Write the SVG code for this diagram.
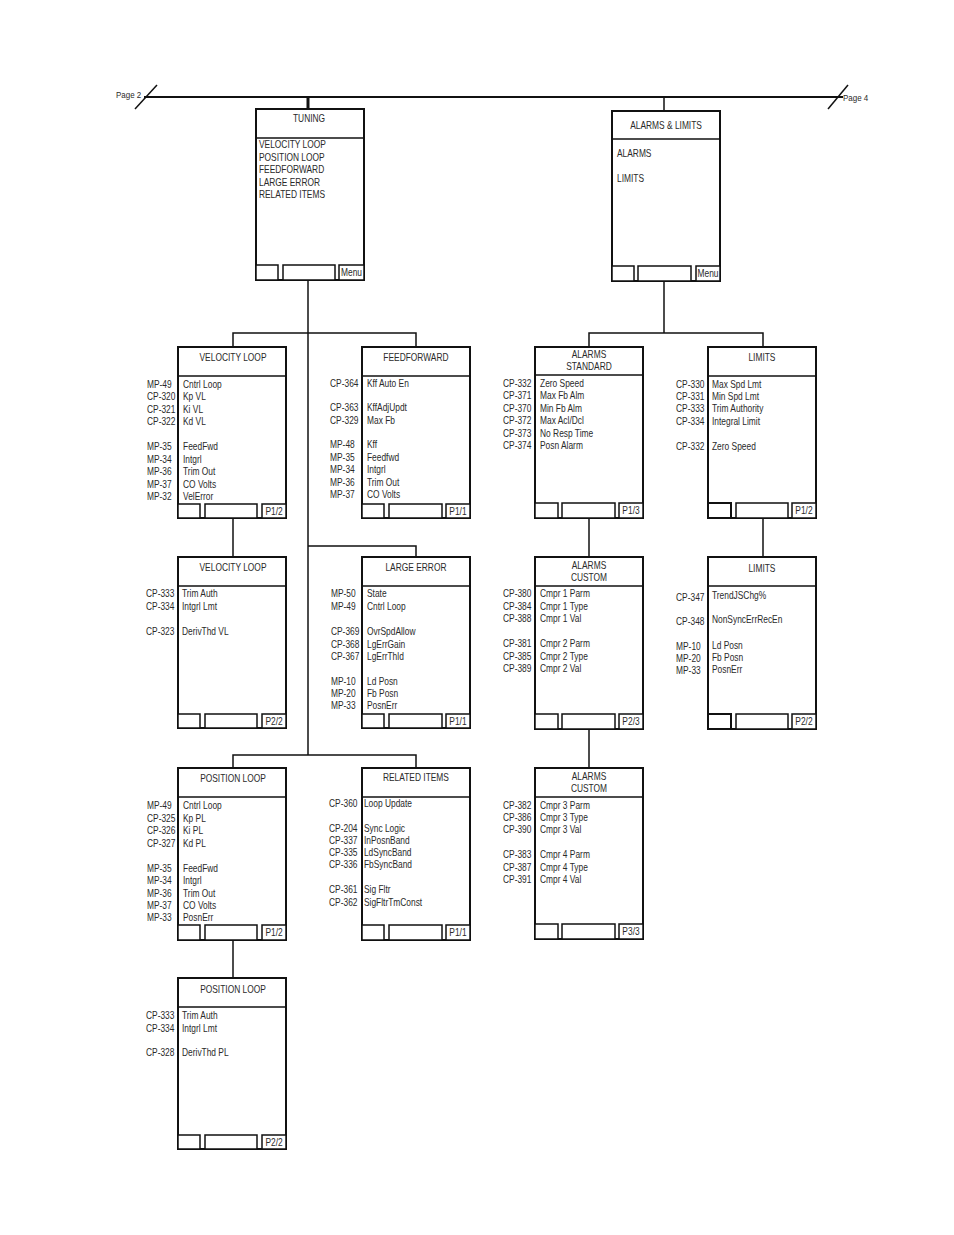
<svg xmlns="http://www.w3.org/2000/svg" width="954" height="1235" viewBox="0 0 954 1235">
<style>
text{font-family:"Liberation Sans",Arial,sans-serif;font-size:10px;fill:#2a2a2a}
.c{text-anchor:middle}
.pg{font-size:9.5px}
.box{fill:#fff;stroke:#111;stroke-width:2}
.sep{stroke:#111;stroke-width:1.5}
.btn{fill:#fff;stroke:#111;stroke-width:1.5}
.ln{fill:none;stroke:#111;stroke-width:1.5}
</style>
<rect width="954" height="1235" fill="#fff"/>
<g id="connectors">
<line class="ln" x1="144" y1="97" x2="843" y2="97" style="stroke-width:2"/>
<line class="ln" x1="135" y1="109" x2="157" y2="85"/>
<line class="ln" x1="828" y1="109" x2="848" y2="85"/>
<line class="ln" x1="308" y1="97" x2="308" y2="109" style="stroke-width:3"/>
<line class="ln" x1="664" y1="97" x2="664" y2="111"/>
<line class="ln" x1="308" y1="280" x2="308" y2="755"/>
<polyline class="ln" points="233,347 233,333 416,333 416,347"/>
<polyline class="ln" points="308,546 416,546 416,557"/>
<line class="ln" x1="233" y1="518" x2="233" y2="557"/>
<polyline class="ln" points="233,768 233,755 416,755 416,768"/>
<line class="ln" x1="233" y1="940" x2="233" y2="978"/>
<line class="ln" x1="664" y1="281" x2="664" y2="333"/>
<polyline class="ln" points="589,347 589,333 763,333 763,347"/>
<line class="ln" x1="589" y1="518" x2="589" y2="557"/>
<line class="ln" x1="589" y1="729" x2="589" y2="768"/>
<line class="ln" x1="763" y1="518" x2="763" y2="557"/>
</g>
<g id="page-refs" transform="scale(0.84 1)">
<text class="pg" x="138.1" y="98">Page 2</text>
<text class="pg" x="1003.6" y="101">Page 4</text>
</g>
<g id="tuning">
<rect class="box" x="256" y="109" width="108" height="171"/>
<line class="sep" x1="256" y1="138" x2="364" y2="138"/>
<rect class="btn" x="256" y="265" width="22" height="15"/>
<rect class="btn" x="283" y="265" width="52" height="15"/>
<rect class="btn" x="339" y="265" width="25" height="15"/>
<g transform="scale(0.84 1)">
<text class="c" x="367.9" y="122">TUNING</text>
<text x="308.3" y="148.5">VELOCITY LOOP</text>
<text x="308.3" y="161">POSITION LOOP</text>
<text x="308.3" y="173.5">FEEDFORWARD</text>
<text x="308.3" y="186">LARGE ERROR</text>
<text x="308.3" y="198.5">RELATED ITEMS</text>
<text class="c" x="418.5" y="276">Menu</text>
</g>
</g>
<g id="alarms-limits">
<rect class="box" x="612" y="111" width="108" height="170"/>
<line class="sep" x1="612" y1="139" x2="720" y2="139"/>
<rect class="btn" x="612" y="266" width="22" height="15"/>
<rect class="btn" x="638" y="266" width="53" height="15"/>
<rect class="btn" x="696" y="266" width="24" height="15"/>
<g transform="scale(0.84 1)">
<text class="c" x="792.9" y="129">ALARMS &amp; LIMITS</text>
<text x="734.5" y="157">ALARMS</text>
<text x="734.5" y="182">LIMITS</text>
<text class="c" x="842.9" y="277">Menu</text>
</g>
</g>
<g id="velocity-loop-1">
<rect class="box" x="178" y="347" width="108" height="171"/>
<line class="sep" x1="178" y1="376" x2="286" y2="376"/>
<rect class="btn" x="178" y="504" width="22" height="14"/>
<rect class="btn" x="205" y="504" width="52" height="14"/>
<rect class="btn" x="262" y="504" width="24" height="14"/>
<g transform="scale(0.84 1)">
<text class="c" x="277.4" y="361">VELOCITY LOOP</text>
<text x="175" y="388">MP-49</text><text x="217.9" y="388">Cntrl Loop</text>
<text x="175" y="400.5">CP-320</text><text x="217.9" y="400.5">Kp VL</text>
<text x="175" y="413">CP-321</text><text x="217.9" y="413">Ki VL</text>
<text x="175" y="425.5">CP-322</text><text x="217.9" y="425.5">Kd VL</text>
<text x="175" y="450.5">MP-35</text><text x="217.9" y="450.5">FeedFwd</text>
<text x="175" y="463">MP-34</text><text x="217.9" y="463">Intgrl</text>
<text x="175" y="475.5">MP-36</text><text x="217.9" y="475.5">Trim Out</text>
<text x="175" y="488">MP-37</text><text x="217.9" y="488">CO Volts</text>
<text x="175" y="500.5">MP-32</text><text x="217.9" y="500.5">VelError</text>
<text class="c" x="326.2" y="515">P1/2</text>
</g>
</g>
<g id="feedforward">
<rect class="box" x="362" y="347" width="108" height="171"/>
<line class="sep" x1="362" y1="376" x2="470" y2="376"/>
<rect class="btn" x="362" y="504" width="22" height="14"/>
<rect class="btn" x="389" y="504" width="53" height="14"/>
<rect class="btn" x="446" y="504" width="24" height="14"/>
<g transform="scale(0.84 1)">
<text class="c" x="495.2" y="361">FEEDFORWARD</text>
<text x="392.9" y="387">CP-364</text><text x="436.9" y="387">Kff Auto En</text>
<text x="392.9" y="411.5">CP-363</text><text x="436.9" y="411.5">KffAdjUpdt</text>
<text x="392.9" y="424">CP-329</text><text x="436.9" y="424">Max Fb</text>
<text x="392.9" y="448.5">MP-48</text><text x="436.9" y="448.5">Kff</text>
<text x="392.9" y="461">MP-35</text><text x="436.9" y="461">Feedfwd</text>
<text x="392.9" y="473.5">MP-34</text><text x="436.9" y="473.5">Intgrl</text>
<text x="392.9" y="486">MP-36</text><text x="436.9" y="486">Trim Out</text>
<text x="392.9" y="498">MP-37</text><text x="436.9" y="498">CO Volts</text>
<text class="c" x="545.2" y="515">P1/1</text>
</g>
</g>
<g id="alarms-standard">
<rect class="box" x="535" y="347" width="108" height="171"/>
<line class="sep" x1="535" y1="375" x2="643" y2="375"/>
<rect class="btn" x="535" y="503" width="23" height="15"/>
<rect class="btn" x="562" y="503" width="53" height="15"/>
<rect class="btn" x="619" y="503" width="24" height="15"/>
<g transform="scale(0.84 1)">
<text class="c" x="701.2" y="358.5">ALARMS</text>
<text class="c" x="701.2" y="370.5">STANDARD</text>
<text x="598.8" y="387">CP-332</text><text x="642.9" y="387">Zero Speed</text>
<text x="598.8" y="399.5">CP-371</text><text x="642.9" y="399.5">Max Fb Alm</text>
<text x="598.8" y="412">CP-370</text><text x="642.9" y="412">Min Fb Alm</text>
<text x="598.8" y="424.5">CP-372</text><text x="642.9" y="424.5">Max Acl/Dcl</text>
<text x="598.8" y="437">CP-373</text><text x="642.9" y="437">No Resp Time</text>
<text x="598.8" y="449.5">CP-374</text><text x="642.9" y="449.5">Posn Alarm</text>
<text class="c" x="751.2" y="514">P1/3</text>
</g>
</g>
<g id="limits-1">
<rect class="box" x="708" y="347" width="108" height="171"/>
<line class="sep" x1="708" y1="376" x2="816" y2="376"/>
<rect class="btn" x="708" y="503" width="23" height="15" style="stroke-width:2"/>
<rect class="btn" x="736" y="503" width="52" height="15"/>
<rect class="btn" x="792" y="503" width="24" height="15"/>
<g transform="scale(0.84 1)">
<text class="c" x="907.1" y="361.5">LIMITS</text>
<text x="804.8" y="388">CP-330</text><text x="847.6" y="388">Max Spd Lmt</text>
<text x="804.8" y="400">CP-331</text><text x="847.6" y="400">Min Spd Lmt</text>
<text x="804.8" y="412.5">CP-333</text><text x="847.6" y="412.5">Trim Authority</text>
<text x="804.8" y="425">CP-334</text><text x="847.6" y="425">Integral Limit</text>
<text x="804.8" y="450.5">CP-332</text><text x="847.6" y="450.5">Zero Speed</text>
<text class="c" x="957.1" y="514">P1/2</text>
</g>
</g>
<g id="velocity-loop-2">
<rect class="box" x="178" y="557" width="108" height="171"/>
<line class="sep" x1="178" y1="586" x2="286" y2="586"/>
<rect class="btn" x="178" y="714" width="22" height="14"/>
<rect class="btn" x="205" y="714" width="52" height="14"/>
<rect class="btn" x="262" y="714" width="24" height="14"/>
<g transform="scale(0.84 1)">
<text class="c" x="277.4" y="571.5">VELOCITY LOOP</text>
<text x="173.8" y="597.5">CP-333</text><text x="216.7" y="597.5">Trim Auth</text>
<text x="173.8" y="610.5">CP-334</text><text x="216.7" y="610.5">Intgrl Lmt</text>
<text x="173.8" y="635.5">CP-323</text><text x="216.7" y="635.5">DerivThd VL</text>
<text class="c" x="326.2" y="725">P2/2</text>
</g>
</g>
<g id="large-error">
<rect class="box" x="362" y="557" width="108" height="171"/>
<line class="sep" x1="362" y1="586" x2="470" y2="586"/>
<rect class="btn" x="362" y="714" width="22" height="14"/>
<rect class="btn" x="389" y="714" width="53" height="14"/>
<rect class="btn" x="446" y="714" width="24" height="14"/>
<g transform="scale(0.84 1)">
<text class="c" x="495.2" y="571.5">LARGE ERROR</text>
<text x="394" y="597.5">MP-50</text><text x="436.9" y="597.5">State</text>
<text x="394" y="610.5">MP-49</text><text x="436.9" y="610.5">Cntrl Loop</text>
<text x="394" y="635.5">CP-369</text><text x="436.9" y="635.5">OvrSpdAllow</text>
<text x="394" y="648">CP-368</text><text x="436.9" y="648">LgErrGain</text>
<text x="394" y="660">CP-367</text><text x="436.9" y="660">LgErrThld</text>
<text x="394" y="685">MP-10</text><text x="436.9" y="685">Ld Posn</text>
<text x="394" y="697.5">MP-20</text><text x="436.9" y="697.5">Fb Posn</text>
<text x="394" y="709.5">MP-33</text><text x="436.9" y="709.5">PosnErr</text>
<text class="c" x="545.2" y="725">P1/1</text>
</g>
</g>
<g id="alarms-custom-1">
<rect class="box" x="535" y="557" width="108" height="172"/>
<line class="sep" x1="535" y1="586" x2="643" y2="586"/>
<rect class="btn" x="535" y="714" width="23" height="15"/>
<rect class="btn" x="562" y="714" width="53" height="15"/>
<rect class="btn" x="619" y="714" width="24" height="15"/>
<g transform="scale(0.84 1)">
<text class="c" x="701.2" y="569.5">ALARMS</text>
<text class="c" x="701.2" y="581.5">CUSTOM</text>
<text x="598.8" y="597">CP-380</text><text x="642.9" y="597">Cmpr 1 Parm</text>
<text x="598.8" y="610">CP-384</text><text x="642.9" y="610">Cmpr 1 Type</text>
<text x="598.8" y="622.5">CP-388</text><text x="642.9" y="622.5">Cmpr 1 Val</text>
<text x="598.8" y="647">CP-381</text><text x="642.9" y="647">Cmpr 2 Parm</text>
<text x="598.8" y="660">CP-385</text><text x="642.9" y="660">Cmpr 2 Type</text>
<text x="598.8" y="672">CP-389</text><text x="642.9" y="672">Cmpr 2 Val</text>
<text class="c" x="751.2" y="725">P2/3</text>
</g>
</g>
<g id="limits-2">
<rect class="box" x="708" y="557" width="108" height="172"/>
<line class="sep" x1="708" y1="586" x2="816" y2="586"/>
<rect class="btn" x="708" y="714" width="23" height="15" style="stroke-width:2"/>
<rect class="btn" x="736" y="714" width="52" height="15"/>
<rect class="btn" x="792" y="714" width="24" height="15"/>
<g transform="scale(0.84 1)">
<text class="c" x="907.1" y="572.5">LIMITS</text>
<text x="804.8" y="601">CP-347</text><text x="847.6" y="599">TrendJSChg%</text>
<text x="804.8" y="625">CP-348</text><text x="847.6" y="623.5">NonSyncErrRecEn</text>
<text x="804.8" y="650">MP-10</text><text x="847.6" y="649">Ld Posn</text>
<text x="804.8" y="662">MP-20</text><text x="847.6" y="661">Fb Posn</text>
<text x="804.8" y="674">MP-33</text><text x="847.6" y="673">PosnErr</text>
<text class="c" x="957.1" y="725">P2/2</text>
</g>
</g>
<g id="position-loop-1">
<rect class="box" x="178" y="768" width="108" height="172"/>
<line class="sep" x1="178" y1="797" x2="286" y2="797"/>
<rect class="btn" x="178" y="925" width="22" height="15"/>
<rect class="btn" x="205" y="925" width="52" height="15"/>
<rect class="btn" x="262" y="925" width="24" height="15"/>
<g transform="scale(0.84 1)">
<text class="c" x="277.4" y="782">POSITION LOOP</text>
<text x="175" y="809.5">MP-49</text><text x="217.9" y="809.5">Cntrl Loop</text>
<text x="175" y="822">CP-325</text><text x="217.9" y="822">Kp PL</text>
<text x="175" y="834.5">CP-326</text><text x="217.9" y="834.5">Ki PL</text>
<text x="175" y="847">CP-327</text><text x="217.9" y="847">Kd PL</text>
<text x="175" y="872">MP-35</text><text x="217.9" y="872">FeedFwd</text>
<text x="175" y="884.5">MP-34</text><text x="217.9" y="884.5">Intgrl</text>
<text x="175" y="897">MP-36</text><text x="217.9" y="897">Trim Out</text>
<text x="175" y="909">MP-37</text><text x="217.9" y="909">CO Volts</text>
<text x="175" y="921.5">MP-33</text><text x="217.9" y="921.5">PosnErr</text>
<text class="c" x="326.2" y="936">P1/2</text>
</g>
</g>
<g id="related-items">
<rect class="box" x="362" y="768" width="108" height="172"/>
<line class="sep" x1="362" y1="797" x2="470" y2="797"/>
<rect class="btn" x="362" y="925" width="22" height="15"/>
<rect class="btn" x="389" y="925" width="53" height="15"/>
<rect class="btn" x="446" y="925" width="24" height="15"/>
<g transform="scale(0.84 1)">
<text class="c" x="495.2" y="781">RELATED ITEMS</text>
<text x="391.7" y="807">CP-360</text><text x="433.3" y="807">Loop Update</text>
<text x="391.7" y="832">CP-204</text><text x="433.3" y="832">Sync Logic</text>
<text x="391.7" y="844">CP-337</text><text x="433.3" y="844">InPosnBand</text>
<text x="391.7" y="856.5">CP-335</text><text x="433.3" y="856.5">LdSyncBand</text>
<text x="391.7" y="868.5">CP-336</text><text x="433.3" y="868.5">FbSyncBand</text>
<text x="391.7" y="893.5">CP-361</text><text x="433.3" y="893.5">Sig Fltr</text>
<text x="391.7" y="906">CP-362</text><text x="433.3" y="906">SigFltrTmConst</text>
<text class="c" x="545.2" y="936">P1/1</text>
</g>
</g>
<g id="alarms-custom-3">
<rect class="box" x="535" y="768" width="108" height="171"/>
<line class="sep" x1="535" y1="797" x2="643" y2="797"/>
<rect class="btn" x="535" y="924" width="23" height="15"/>
<rect class="btn" x="562" y="924" width="53" height="15"/>
<rect class="btn" x="619" y="924" width="24" height="15"/>
<g transform="scale(0.84 1)">
<text class="c" x="701.2" y="780">ALARMS</text>
<text class="c" x="701.2" y="792">CUSTOM</text>
<text x="598.8" y="809">CP-382</text><text x="642.9" y="809">Cmpr 3 Parm</text>
<text x="598.8" y="821">CP-386</text><text x="642.9" y="821">Cmpr 3 Type</text>
<text x="598.8" y="833.5">CP-390</text><text x="642.9" y="833.5">Cmpr 3 Val</text>
<text x="598.8" y="858.5">CP-383</text><text x="642.9" y="858.5">Cmpr 4 Parm</text>
<text x="598.8" y="871">CP-387</text><text x="642.9" y="871">Cmpr 4 Type</text>
<text x="598.8" y="883.5">CP-391</text><text x="642.9" y="883.5">Cmpr 4 Val</text>
<text class="c" x="751.2" y="935">P3/3</text>
</g>
</g>
<g id="position-loop-2">
<rect class="box" x="178" y="978" width="108" height="171"/>
<line class="sep" x1="178" y1="1007" x2="286" y2="1007"/>
<rect class="btn" x="178" y="1135" width="22" height="14"/>
<rect class="btn" x="205" y="1135" width="52" height="14"/>
<rect class="btn" x="262" y="1135" width="24" height="14"/>
<g transform="scale(0.84 1)">
<text class="c" x="277.4" y="993.5">POSITION LOOP</text>
<text x="173.8" y="1019.5">CP-333</text><text x="216.7" y="1019.5">Trim Auth</text>
<text x="173.8" y="1032">CP-334</text><text x="216.7" y="1032">Intgrl Lmt</text>
<text x="173.8" y="1056.5">CP-328</text><text x="216.7" y="1056.5">DerivThd PL</text>
<text class="c" x="326.2" y="1146">P2/2</text>
</g>
</g>
</svg>
